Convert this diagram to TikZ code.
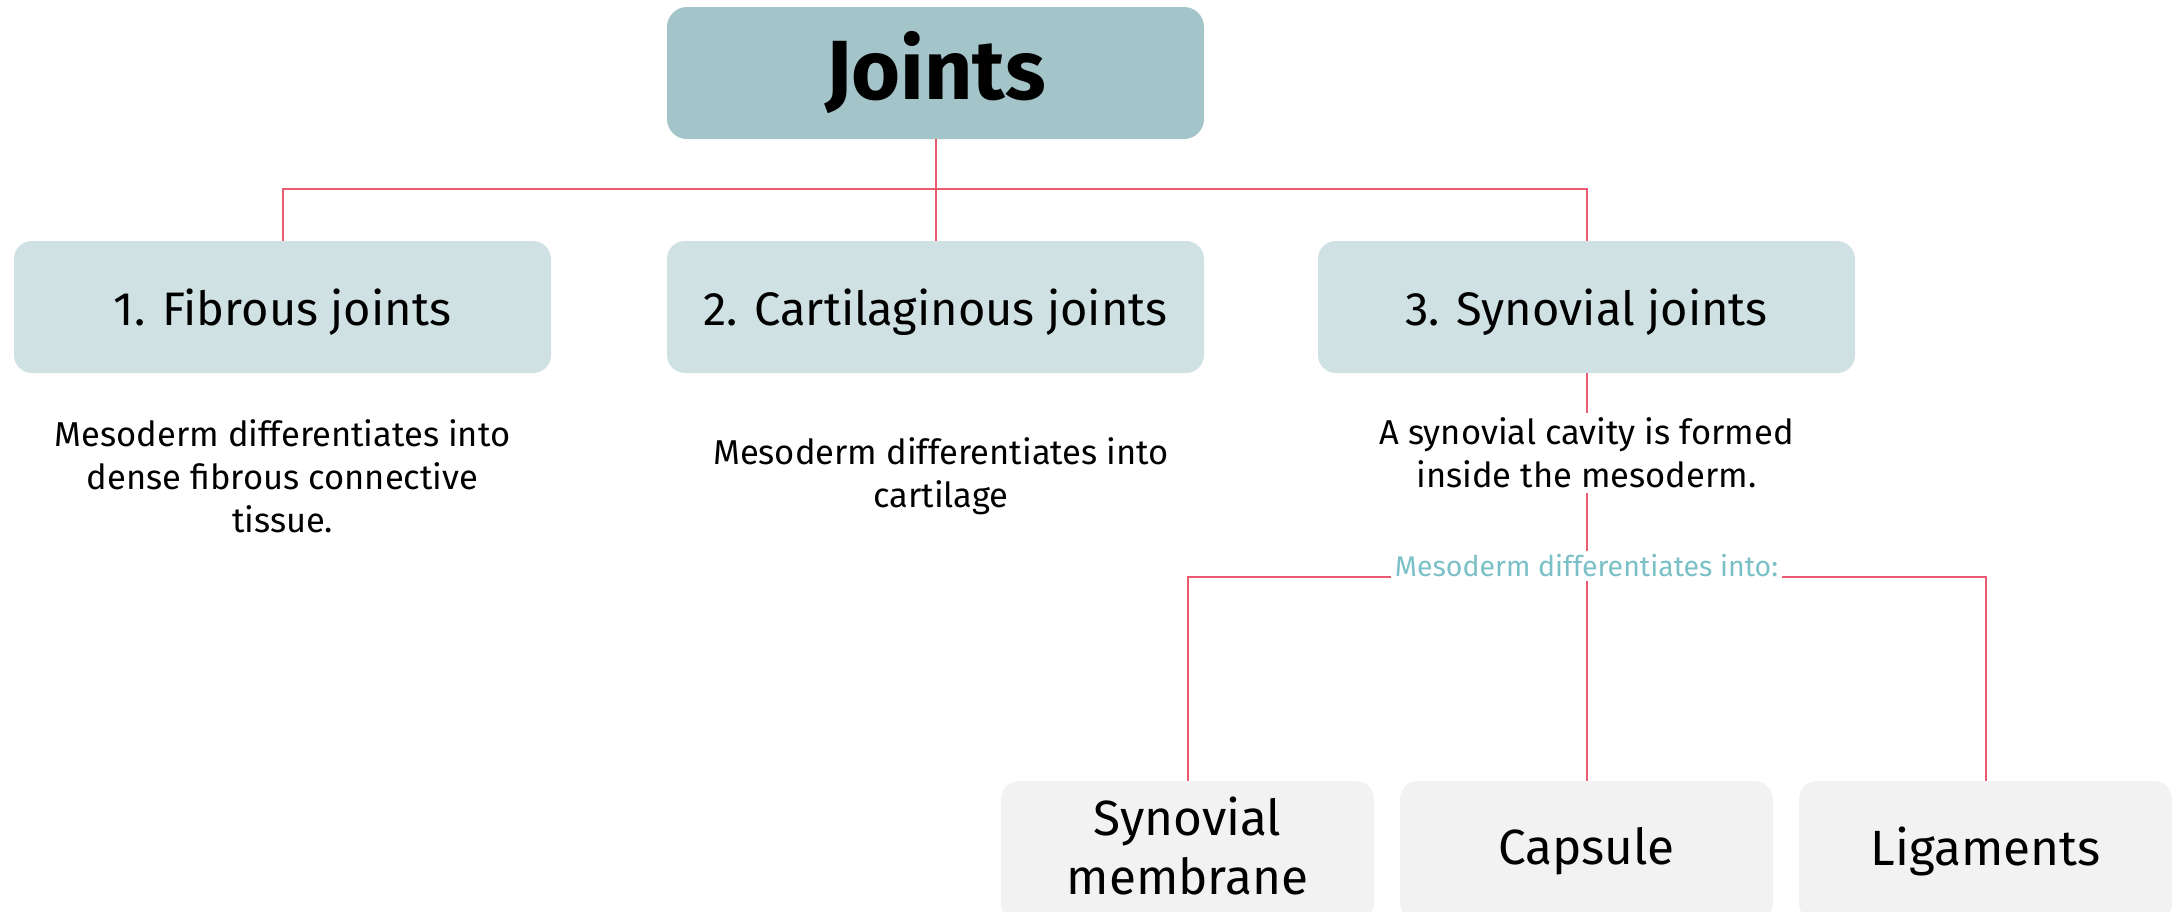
\documentclass[tikz,border=0pt]{standalone}
\usepackage{fontspec}
\setmainfont{Fira Sans}
\definecolor{topfill}{HTML}{A3C4C9}
\definecolor{midfill}{HTML}{D0E1E3}
\definecolor{lowfill}{HTML}{F2F2F2}
\definecolor{linecol}{HTML}{E85B71}
\definecolor{labcol}{HTML}{7BC0C7}
\tikzset{
  conn/.style={draw=linecol, line width=2pt},
  topbox/.style={fill=topfill, rounded corners=20pt, minimum width=537pt, minimum height=132pt, inner sep=0pt,
    font=\fontsize{84}{90}\selectfont\bfseries},
  midbox/.style={fill=midfill, rounded corners=18pt, minimum width=537pt, minimum height=132pt, inner sep=0pt,
    text depth=0pt, font=\fontsize{47}{52}\selectfont},
  lowbox/.style={fill=lowfill, rounded corners=18pt, minimum width=373pt, minimum height=140pt, inner sep=0pt,
    align=center, font=\fontsize{49.5}{59}\selectfont},
  lowtext/.style={align=center, inner sep=0pt, font=\fontsize{49.5}{59}\selectfont},
  desc/.style={align=center, inner sep=5pt, font=\fontsize{34.5}{43}\selectfont},
  sublab/.style={text=labcol, inner sep=4pt, font=\fontsize{28.5}{32}\selectfont}
}
\begin{document}
\begin{tikzpicture}[x=1pt,y=-1pt]
\useasboundingbox (0,0) rectangle (2182,911);
\clip (0,0) rectangle (2182,911);
\node[topbox] (joints) at (935.5,73) {Joints};
\node[midbox] (fib) at (282.5,307) {1. Fibrous joints};
\node[midbox] (cart) at (935.5,307) {2. Cartilaginous joints};
\node[midbox] (syn) at (1586.5,307) {3. Synovial joints};
\node[desc] (fibdesc) at (282.5,476) {Mesoderm differentiates into\\dense fibrous connective\\tissue.};
\node[desc] (cartdesc) at (941,476.5) {Mesoderm differentiates into\\cartilage};
\node[desc] (syndesc) at (1586.5,453) {A synovial cavity is formed\\inside the mesoderm.};
\node[sublab] (sub) at (1586.5,566) {Mesoderm differentiates into:};
\node[lowbox] (memb) at (1187.5,851) {};
\node[lowtext] (membtext) at (1187.5,846) {Synovial\\membrane};
\node[lowbox] (caps) at (1586.5,851) {Capsule};
\node[lowbox] (lig) at (1985.5,851) {Ligaments};
\draw[conn] (joints.south) -- (cart.north);
\draw[conn] (fib.north) -- ++(0,-52) -| (syn.north);
\draw[conn] (syn.south) -- (syndesc.north);
\draw[conn] (syndesc.south) -- (sub.north);
\draw[conn] (sub.south) -- (caps.north);
\draw[conn] (sub.base west) -| (memb.north);
\draw[conn] (sub.base east) -| (lig.north);
\end{tikzpicture}
\end{document}
